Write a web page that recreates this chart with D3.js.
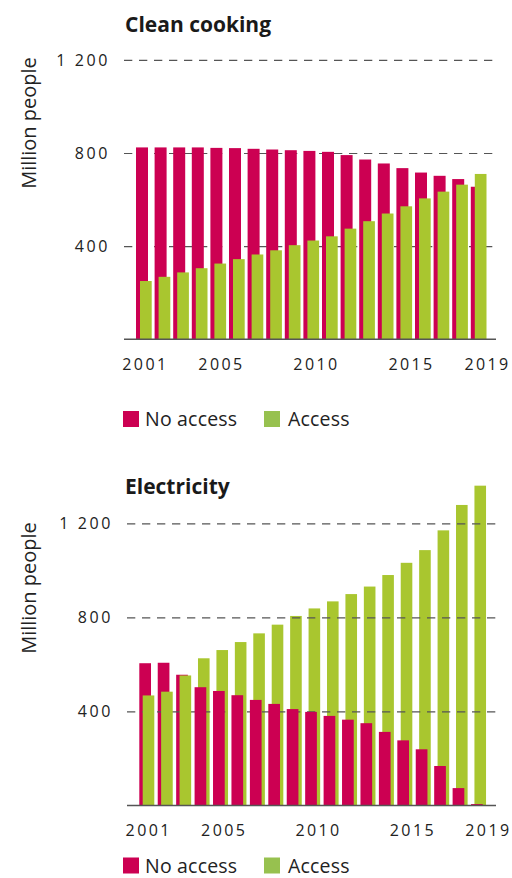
<!DOCTYPE html>
<html>
<head>
<meta charset="utf-8">
<script src="https://cdn.jsdelivr.net/npm/d3@7"></script>
<style>
  html, body { margin: 0; padding: 0; background: #fff; }
  svg { display: block; font-family: "Open Sans", "Noto Sans", sans-serif; }
</style>
</head>
<body>
<svg id="chart" width="512" height="878"></svg>
<script>
// Years shown on both panels
const years = d3.range(2001, 2020);
const yearLabels = [2001, 2005, 2010, 2015, 2019];
const yTicks = [400, 800, 1200];

// Clean cooking, million people
const cookingNoAccess = [824, 824, 824, 824, 822, 821, 818, 815, 812, 809, 805, 791, 772, 755, 735, 716, 702, 688, 655];
const cookingAccess   = [250, 268, 287, 305, 325, 344, 364, 382, 404, 424, 442, 475, 507, 540, 571, 605, 634, 664, 710];

// Electricity, million people
const elecNoAccess = [605, 607, 556, 503, 487, 469, 449, 432, 410, 398, 381, 365, 350, 313, 277, 239, 168, 74, 6];
const elecAccess   = [468, 484, 553, 626, 661, 695, 732, 769, 806, 838, 868, 899, 931, 980, 1032, 1086, 1170, 1278, 1360];

const seriesNames = ["No access", "Access"];

const PINK = "#cc0052";
const GREEN = "#a9c62f";
const LEGEND_GREEN = "#97c14f";
const TEXT = "#222";

const svg = d3.select("#chart");
const fmt = v => d3.format(",")(v).replace(/,/g, " ");

function panel(cfg) {
  const g = svg.append("g");
  const rows = years.map((yr, i) => ({ year: yr, no: cfg.no[i], yes: cfg.yes[i] }));

  const x = d3.scaleBand().domain(years).range([cfg.barStart, cfg.barEnd]).padding(0);
  const xl = d3.scaleLinear().domain([2001, 2019]).range(cfg.labelRange);
  const y = d3.scaleLinear().domain([0, 1200]).range([cfg.base, cfg.top]);

  // title
  g.append("text").attr("x", 125).attr("y", cfg.titleY)
    .attr("font-size", 21).attr("font-weight", 700).attr("fill", "#1a1a1a")
    .text(cfg.title);

  // y-axis title
  g.append("text")
    .attr("transform", `translate(36,${cfg.yTitleMid}) rotate(-90)`)
    .attr("text-anchor", "middle").attr("font-size", 20).attr("fill", TEXT)
    .text("Million people");

  const layerBack = g.append("g");
  const gridLayer = g.append("g");
  const layerFront = g.append("g");

  // dashed gridlines + tick labels
  const axis = d3.axisLeft(y).tickValues(yTicks).tickFormat(fmt)
    .tickSize(-(cfg.right - cfg.left)).tickPadding(14);
  const ga = gridLayer.append("g").attr("transform", `translate(${cfg.left},0)`).call(axis);
  ga.select(".domain").remove();
  ga.selectAll(".tick line").attr("stroke", "#555").attr("stroke-width", 1.2)
    .attr("stroke-dasharray", "8.3,6.7");
  ga.selectAll(".tick text").attr("fill", TEXT).attr("font-size", 16)
    .attr("font-family", "'Open Sans', sans-serif").attr("letter-spacing", 2.6);

  const bar = (sel, key, color, off, w) => sel
    .attr("x", d => x(d.year) + off)
    .attr("y", d => y(d[key]))
    .attr("width", w)
    .attr("height", d => y(0) - y(d[key]))
    .attr("fill", color);

  rows.forEach(d => {
    const items = [
      { key: "no", color: PINK, off: 0, w: cfg.pinkW },
      { key: "yes", color: GREEN, off: cfg.greenOff, w: cfg.greenW }
    ];
    let back, front;
    if (cfg.order === "greenTop") { back = items[0]; front = items[1]; }
    else { // taller bar behind, shorter in front
      if (d.no >= d.yes) { back = items[0]; front = items[1]; }
      else { back = items[1]; front = items[0]; }
    }
    bar(layerBack.append("rect").datum(d), back.key, back.color, back.off, back.w);
    bar(layerFront.append("rect").datum(d), front.key, front.color, front.off, front.w);
  });

  if (!cfg.gridBetween) gridLayer.lower();

  // baseline
  g.append("line").attr("x1", cfg.left).attr("x2", cfg.right)
    .attr("y1", y(0)).attr("y2", y(0))
    .attr("stroke", "#555").attr("stroke-width", 1.5);

  // year labels
  const xa = d3.axisBottom(xl).tickValues(yearLabels).tickFormat(d3.format("d"))
    .tickSize(0).tickPadding(0);
  const gx = g.append("g").attr("transform", `translate(0,${cfg.labelY})`).call(xa);
  gx.select(".domain").remove();
  gx.selectAll(".tick text").attr("fill", TEXT).attr("font-size", 16)
    .attr("font-family", "'Open Sans', sans-serif")
    .attr("letter-spacing", 2.4).attr("dy", 0).attr("y", 0)
    .attr("dx", 1.2);

  // legend
  const lg = g.append("g").attr("transform", `translate(123,${cfg.legendY})`);
  const leg = [
    { name: seriesNames[0], color: PINK, x: 0, tx: 22 },
    { name: seriesNames[1], color: LEGEND_GREEN, x: 141, tx: 165 }
  ];
  leg.forEach(l => {
    lg.append("rect").attr("x", l.x).attr("y", 0).attr("width", 16).attr("height", 16).attr("fill", l.color);
    lg.append("text").attr("x", l.tx).attr("y", 15).attr("font-size", 19.5)
      .attr("letter-spacing", 0.2).attr("fill", TEXT).text(l.name);
  });
}

panel({
  title: "Clean cooking", titleY: 31.7, yTitleMid: 123,
  no: cookingNoAccess, yes: cookingAccess,
  base: 339.2, top: 59.9, left: 124, right: 496,
  barStart: 136, barEnd: 136 + 19 * 18.6, pinkW: 12, greenOff: 4, greenW: 11.7,
  labelRange: [143.7, 485.8], labelY: 369.5,
  order: "greenTop", gridBetween: false, legendY: 411
});

panel({
  title: "Electricity", titleY: 493.5, yTitleMid: 588,
  no: elecNoAccess, yes: elecAccess,
  base: 805.5, top: 523.3, left: 127, right: 496,
  barStart: 139.3, barEnd: 139.3 + 19 * 18.43, pinkW: 11.7, greenOff: 3.4, greenW: 11.6,
  labelRange: [147, 486.7], labelY: 836,
  order: "shorterTop", gridBetween: true, legendY: 857.5
});
</script>
</body>
</html>
